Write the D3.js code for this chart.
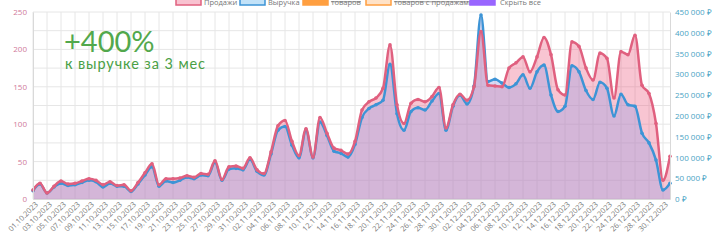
<!DOCTYPE html>
<html>
<head>
    <meta charset="utf-8">
    <script src="https://cdn.jsdelivr.net/npm/d3@7"></script>
</head>
<style>
    body{
        margin:0;
        background-color:#ffffff;
        font-family:'Open Sans', sans-serif;
    }
    svg{ display:block; }
</style>
<body>
<div id="chart"></div>
<script>

// sales (left axis, pcs) and revenue (right axis, rub) per day
var sales = [12,21,8,17,24,20,21,24,27,25,19,23,18,19,11,22,35,47,19,27,
             27,28,31,29,34,33,51,26,43,44,41,55,39,34,63,98,105,77,58,94,
             56,109,88,68,65,60,77,119,130,135,148,206,126,101,128,133,130,137,149,95,
             126,140,132,150,224,152,151,150,175,182,190,170,190,216,193,146,139,210,204,175,
             159,195,188,135,197,193,219,152,141,101,25,57];

var revenue = [19800,36000,14400,28800,37800,32400,34200,39600,45000,41400,28800,37800,30600,30600,18000,36000,57600,77400,30600,43200,
               39600,45000,52200,48600,57600,55800,88200,45000,72000,73800,70200,95400,66600,57600,108000,165600,174600,129600,99000,165600,
               99000,185400,153000,115200,109800,100800,131400,196200,217800,226800,237600,324000,205200,165600,210600,219600,214200,235800,253800,165600,
               223200,250200,228600,271800,442800,282600,288000,279000,268200,277200,298800,266400,306000,322200,250200,210600,223200,320400,306000,261000,
               239400,280800,266400,199800,252000,226800,223200,158400,135000,93600,21600,37800];

// dates 01.10.2023 .. 31.12.2023
var fmtDate = d3.timeFormat("%d.%m.%Y");
var dates = d3.timeDay.range(new Date(2023, 9, 1), new Date(2024, 0, 1)).map(fmtDate);

var leftTicks = [0, 50, 100, 150, 200, 250];
var rightTicks = [0, 50000, 100000, 150000, 200000, 250000, 300000, 350000, 400000, 450000];

var legendItems = ["Продажи", "Выручка", "товаров", "товаров с продажами", "Скрыть все"];
var headline = "+400%";
var subline = "к выручке за 3 мес";

var width = 720, height = 240;
var margin = {top: 12, right: 50, bottom: 41, left: 33};

var svg = d3.select("#chart").append("svg")
    .attr("width", width)
    .attr("height", height);

var x = d3.scalePoint().domain(dates).range([margin.left, width - margin.right]);
var yL = d3.scaleLinear().domain([0, 250]).range([height - margin.bottom, margin.top]);
var yR = d3.scaleLinear().domain([0, 450000]).range([height - margin.bottom, margin.top]);

var shown = dates.filter(function(d, i) { return i % 2 == 0; });

// grid
var grid = svg.append("g").attr("class", "grid");
grid.selectAll(".hg")
    .data(d3.range(0, 251, 25))
    .enter().append("line")
    .attr("x1", margin.left).attr("x2", width - margin.right)
    .attr("y1", function(d) { return yL(d); }).attr("y2", function(d) { return yL(d); })
    .style("stroke", "#e6e6e6").style("stroke-width", 1);
grid.selectAll(".vg")
    .data(shown)
    .enter().append("line")
    .attr("x1", function(d) { return x(d); }).attr("x2", function(d) { return x(d); })
    .attr("y1", margin.top).attr("y2", height - margin.bottom)
    .style("stroke", "#e6e6e6").style("stroke-width", 1);

// areas
var curve = d3.curveMonotoneX;
var salesArea = d3.area()
    .x(function(d, i) { return x(dates[i]); })
    .y0(yL(0))
    .y1(function(d) { return yL(d); })
    .curve(curve);
var revArea = d3.area()
    .x(function(d, i) { return x(dates[i]); })
    .y0(yR(0))
    .y1(function(d) { return yR(d); })
    .curve(curve);

svg.append("path").datum(sales).attr("d", salesArea)
    .style("fill", "rgba(235,90,125,0.35)");
svg.append("path").datum(revenue).attr("d", revArea)
    .style("fill", "rgba(158,160,225,0.4)");

// lines
var salesLine = d3.line()
    .x(function(d, i) { return x(dates[i]); })
    .y(function(d) { return yL(d); })
    .curve(curve);
var revLine = d3.line()
    .x(function(d, i) { return x(dates[i]); })
    .y(function(d) { return yR(d); })
    .curve(curve);

svg.append("path").datum(revenue).attr("d", revLine)
    .style("fill", "none").style("stroke", "#3d94d6").style("stroke-width", 2.5);
svg.selectAll(".rdot").data(revenue).enter().append("circle")
    .attr("cx", function(d, i) { return x(dates[i]); })
    .attr("cy", function(d) { return yR(d); })
    .attr("r", 1.8).style("fill", "#3d94d6");

svg.append("path").datum(sales).attr("d", salesLine)
    .style("fill", "none").style("stroke", "#e0607f").style("stroke-width", 2.5);
svg.selectAll(".sdot").data(sales).enter().append("circle")
    .attr("cx", function(d, i) { return x(dates[i]); })
    .attr("cy", function(d) { return yL(d); })
    .attr("r", 1.8).style("fill", "#e0607f");

// axes
var axL = svg.append("g")
    .attr("transform", "translate(" + margin.left + ",0)")
    .call(d3.axisLeft(yL).tickValues(leftTicks).tickSize(0).tickPadding(6));
axL.select(".domain").style("stroke", "#d9d9d9");
axL.selectAll("text").style("fill", "#d07a9a").style("font-size", "8px").style("font-family", "'Open Sans', sans-serif");

var axR = svg.append("g")
    .attr("transform", "translate(" + (width - margin.right) + ",0)")
    .call(d3.axisRight(yR).tickValues(rightTicks).tickSize(0).tickPadding(5)
        .tickFormat(function(d) { return d3.format(",")(d).replace(/,/g, " ") + " ₽"; }));
axR.select(".domain").style("stroke", "#d9d9d9");
axR.selectAll("text").style("fill", "#4aa3c4").style("font-size", "8px").style("font-family", "'Open Sans', sans-serif");

var axB = svg.append("g")
    .attr("transform", "translate(0," + (height - margin.bottom) + ")")
    .call(d3.axisBottom(x).tickValues(shown).tickSize(0).tickPadding(4));
axB.select(".domain").style("stroke", "#d9d9d9");
axB.selectAll("text")
    .style("text-anchor", "end")
    .style("fill", "#777")
    .style("font-size", "7.5px")
    .style("font-family", "'Open Sans', sans-serif")
    .attr("dx", "-0.1em")
    .attr("dy", "0.5em")
    .attr("transform", "rotate(-45)");

// legend (cut off at top edge)
var legendPos = [176, 240, 303, 366, 470];
var legendFill = ["rgba(240,120,150,0.45)", "rgba(120,190,240,0.45)", "#ff9f40", "rgba(255,190,130,0.45)", "#9966ff"];
var legendStroke = ["#e0607f", "#3d94d6", "#ff9f40", "#ff9f40", "#9966ff"];
var legend = svg.selectAll(".legend")
    .data(legendItems)
    .enter().append("g")
    .attr("class", "legend")
    .attr("transform", function(d, i) { return "translate(" + legendPos[i] + ",-6)"; });
legend.append("rect")
    .attr("width", 25).attr("height", 11)
    .style("fill", function(d, i) { return legendFill[i]; })
    .style("stroke", function(d, i) { return legendStroke[i]; })
    .style("stroke-width", 1.5);
legend.append("text")
    .attr("x", function(d, i) { return i == 4 ? 30 : 28; })
    .attr("y", 10.5)
    .style("font-size", "7.5px")
    .style("fill", "#777")
    .style("text-decoration", function(d, i) { return (i == 2 || i == 3) ? "line-through" : "none"; })
    .style("font-family", "'Open Sans', sans-serif")
    .text(function(d) { return d; });

// headline
svg.append("text")
    .attr("x", 64).attr("y", 52)
    .style("font-size", "29px")
    .style("fill", "#52a84c")
    .style("font-family", "Lato, sans-serif")
    .text(headline);
svg.append("text")
    .attr("x", 65).attr("y", 69)
    .style("font-size", "14.5px")
    .style("letter-spacing", "0.9px")
    .style("fill", "#4a9f45")
    .style("font-family", "Lato, sans-serif")
    .text(subline);

</script>
</body>
</html>
